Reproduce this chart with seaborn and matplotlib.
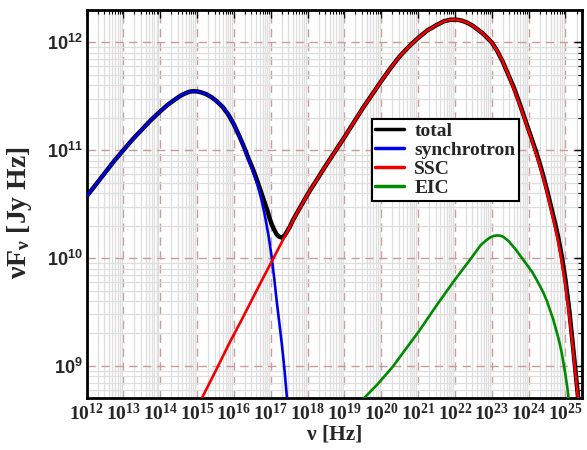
import numpy as np
import matplotlib
matplotlib.use('Agg')
import matplotlib.pyplot as plt
from matplotlib import ticker
import seaborn as sns

# values, as log10(nu [Hz]) and log10(nu F_nu [Jy Hz])
sync_lognu = [12.0, 12.25, 12.5, 12.75, 13.0, 13.25, 13.5, 13.75, 14.0, 14.2, 14.4, 14.55,
              14.7, 14.8, 14.9, 15.0, 15.1, 15.25, 15.4, 15.55, 15.7, 15.85, 16.0, 16.15,
              16.3, 16.4, 16.5, 16.65, 16.75, 16.85, 16.95, 17.03, 17.1, 17.16, 17.23,
              17.30, 17.37, 17.43, 17.48]
sync_logf = [10.57, 10.68, 10.79, 10.90, 11.00, 11.10, 11.19, 11.28, 11.36, 11.42, 11.47, 11.505,
             11.53, 11.543, 11.547, 11.545, 11.538, 11.52, 11.49, 11.45, 11.40, 11.33, 11.24, 11.13,
             11.00, 10.91, 10.82, 10.67, 10.54, 10.38, 10.19, 10.00, 9.80, 9.61, 9.41,
             9.21, 8.98, 8.75, 8.55]

ssc_lognu = [15.1, 15.5, 15.89, 16.2, 16.5, 16.8, 17.03, 17.35, 17.7, 18.0, 18.5, 19.0,
             19.5, 20.0, 20.25, 20.5, 20.75, 21.0, 21.25, 21.5, 21.7, 21.88, 22.05, 22.2,
             22.35, 22.5, 22.75, 23.0, 23.15, 23.3, 23.45, 23.6, 23.75, 23.9, 24.0, 24.1,
             24.2, 24.3, 24.4, 24.5, 24.6, 24.7, 24.8, 24.9, 25.0, 25.1, 25.2, 25.3, 25.38]
ssc_logf = [8.68, 8.95, 9.22, 9.42, 9.62, 9.82, 9.97, 10.18, 10.41, 10.59, 10.86, 11.12,
            11.39, 11.64, 11.76, 11.87, 11.96, 12.04, 12.11, 12.16, 12.195, 12.21, 12.21, 12.20,
            12.18, 12.15, 12.085, 12.00, 11.92, 11.82, 11.70, 11.57, 11.43, 11.28, 11.18, 11.08,
            10.97, 10.86, 10.74, 10.61, 10.46, 10.32, 10.16, 9.97, 9.75, 9.48, 9.17, 8.84, 8.56]

eic_lognu = [19.5, 19.9, 20.33, 20.65, 21.0, 21.5, 22.0, 22.4, 22.7, 22.85, 22.95, 23.05,
             23.14, 23.22, 23.3, 23.45, 23.65, 23.82, 23.95, 24.1, 24.2, 24.31, 24.4, 24.5,
             24.58, 24.67, 24.75, 24.8, 24.85, 24.9, 24.96, 25.0, 25.03, 25.07, 25.1]
eic_logf = [8.69, 8.83, 9.00, 9.15, 9.31, 9.56, 9.80, 9.98, 10.12, 10.165, 10.19, 10.205,
            10.21, 10.208, 10.20, 10.16, 10.08, 10.00, 9.94, 9.87, 9.81, 9.74, 9.68, 9.60,
            9.52, 9.43, 9.33, 9.27, 9.20, 9.12, 9.00, 8.92, 8.85, 8.75, 8.65]

total_lognu = [12.0, 12.25, 12.5, 12.75, 13.0, 13.25, 13.5, 13.75, 14.0, 14.2, 14.4, 14.55,
               14.7, 14.8, 14.9, 15.0, 15.1, 15.25, 15.4, 15.55, 15.7, 15.85, 16.0, 16.15,
               16.3, 16.4, 16.5, 16.6, 16.7, 16.8, 16.9, 16.97, 17.03, 17.1, 17.16, 17.22,
               17.3, 17.38, 17.45, 17.52, 17.6, 17.7, 18.0, 18.5, 19.0, 19.5, 20.0, 20.25,
               20.5, 20.75, 21.0, 21.25, 21.5, 21.7, 21.88, 22.05, 22.2, 22.35, 22.5, 22.75,
               23.0, 23.15, 23.3, 23.45, 23.6, 23.75, 23.9, 24.0, 24.1, 24.2, 24.3, 24.4,
               24.5, 24.6, 24.7, 24.8, 24.9, 25.0, 25.1, 25.2, 25.3, 25.38]
total_logf = [10.57, 10.68, 10.79, 10.90, 11.00, 11.10, 11.19, 11.28, 11.36, 11.42, 11.47, 11.505,
              11.53, 11.543, 11.547, 11.545, 11.538, 11.52, 11.49, 11.45, 11.40, 11.33, 11.24, 11.13,
              11.01, 10.92, 10.84, 10.75, 10.65, 10.55, 10.45, 10.37, 10.31, 10.26, 10.22, 10.20,
              10.19, 10.21, 10.25, 10.29, 10.35, 10.41, 10.59, 10.86, 11.12, 11.39, 11.64, 11.76,
              11.87, 11.96, 12.04, 12.11, 12.16, 12.195, 12.21, 12.21, 12.20, 12.18, 12.15, 12.085,
              12.00, 11.92, 11.82, 11.70, 11.58, 11.44, 11.29, 11.19, 11.09, 10.99, 10.88, 10.76,
              10.63, 10.49, 10.35, 10.20, 10.02, 9.80, 9.53, 9.20, 8.86, 8.58]

x_decades = np.arange(12, 26)
y_decades = np.arange(9, 13)

sns.set_style('white')
plt.rcParams['font.family'] = ['Liberation Serif', 'DejaVu Serif']
plt.rcParams['font.weight'] = 'bold'
plt.rcParams['mathtext.fontset'] = 'custom'
plt.rcParams['mathtext.rm'] = 'Liberation Serif:bold'
plt.rcParams['mathtext.bf'] = 'Liberation Serif:bold'
plt.rcParams['mathtext.it'] = 'Liberation Serif:bold:italic'
plt.rcParams['mathtext.sf'] = 'Liberation Sans:bold'
plt.rcParams['lines.solid_joinstyle'] = 'round'

fig = plt.figure(figsize=(5.87, 4.5), dpi=100)
ax = fig.add_axes([86.5 / 587, 1 - 398.3 / 450, 495.5 / 587, 388.3 / 450])

# black total drawn first and wider, components on top
curves = [
    (total_lognu, total_logf, 'total', 'black', 3.2, 3),
    (sync_lognu, sync_logf, 'synchrotron', '#0000e6', 1.9, 4),
    (ssc_lognu, ssc_logf, 'SSC', '#f00000', 1.9, 4),
    (eic_lognu, eic_logf, 'EIC', '#008a00', 1.9, 4),
]
for lognu, logf, name, col, lw, z in curves:
    sns.lineplot(x=10 ** np.array(lognu), y=10 ** np.array(logf), ax=ax, color=col,
                 lw=lw, label=name, sort=False, estimator=None, zorder=z)

ax.set_xscale('log')
ax.set_yscale('log')
ax.set_xlim(1e12, 10 ** 25.45)
ax.set_ylim(10 ** 8.70, 10 ** 12.30)

ax.xaxis.set_major_locator(ticker.FixedLocator(10.0 ** x_decades))
ax.yaxis.set_major_locator(ticker.FixedLocator(10.0 ** y_decades))
ax.xaxis.set_minor_locator(ticker.LogLocator(base=10, subs=np.arange(2, 10), numticks=300))
ax.yaxis.set_minor_locator(ticker.LogLocator(base=10, subs=np.arange(2, 10), numticks=300))
ax.xaxis.set_major_formatter(ticker.FixedFormatter([r'$\mathbf{10^{%d}}$' % d for d in x_decades]))
ax.yaxis.set_major_formatter(ticker.FixedFormatter([r'$\mathsf{10^{%d}}$' % d for d in y_decades]))
ax.xaxis.set_minor_formatter(ticker.NullFormatter())
ax.yaxis.set_minor_formatter(ticker.NullFormatter())

ax.set_axisbelow(True)
ax.grid(which='minor', color='#dedede', lw=0.9, ls='-')
ax.grid(which='major', color='#c99a9a', lw=1.0, ls=(0, (6, 4)))

ax.tick_params(which='both', direction='in', top=True, right=True, color='black')
ax.tick_params(which='major', length=6, width=1)
ax.tick_params(which='minor', length=3, width=0.8)
ax.tick_params(axis='x', labelsize=14, pad=3)
ax.tick_params(axis='y', labelsize=13, pad=3)
for s in ax.spines.values():
    s.set_linewidth(2)
    s.set_color('black')

ax.set_xlabel('ν [Hz]', fontsize=15.5, fontweight='bold')
ax.xaxis.set_label_coords(0.5, -0.068)
ax.set_ylabel('νF$_{\\mathbf{ν}}$ [Jy Hz]', fontsize=20, fontweight='bold')
ax.yaxis.set_label_coords(-0.106, 0.477)

leg = ax.legend(loc='upper left', bbox_to_anchor=(0.576, 0.719), borderaxespad=0,
                frameon=True, fancybox=False, edgecolor='black', framealpha=1,
                fontsize=14, handlelength=1.45, handletextpad=0.55,
                labelspacing=0.07, borderpad=0.18)
leg.get_frame().set_linewidth(1.5)
for line in leg.get_lines():
    line.set_linewidth(2.5)

fig.savefig('out.png', dpi=100)
